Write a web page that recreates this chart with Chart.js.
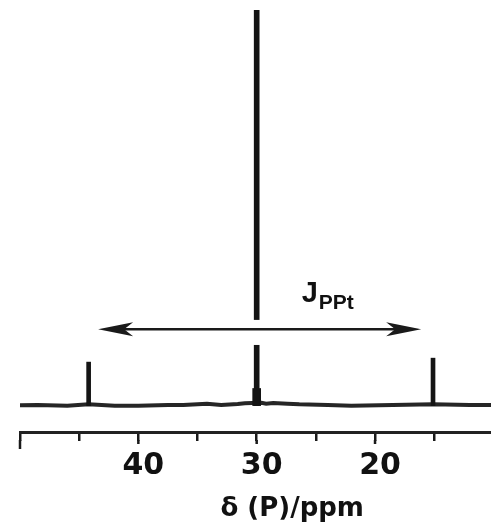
<!DOCTYPE html>
<html>
<head>
<meta charset="utf-8">
<script src="https://cdn.jsdelivr.net/npm/chart.js@4/dist/chart.umd.min.js"></script>
<style>
  html, body { margin: 0; padding: 0; background: #fff; }
  #wrap { width: 491px; height: 526px; }
</style>
</head>
<body>
<div id="wrap"><canvas id="c" width="491" height="526"></canvas></div>
<script>
// ---- data ----
// baseline trace
const baselinePpm = [51, 48.5, 46.0, 44.2, 42.0, 40.0, 37.5, 36.2, 34.2, 33.0, 31.6, 31.0, 30.4, 29.6, 29.2, 28.6, 27.4, 26.4, 24.0, 22.0, 18.5, 15.1, 12.0, 9.5];
const baselineIntensity = [0.0, 0.05, 0.0, 0.1, 0.0, 0.0, 0.05, 0.05, 0.15, 0.05, 0.12, 0.18, 0.2, 0.22, 0.15, 0.2, 0.15, 0.1, 0.05, 0.0, 0.05, 0.1, 0.05, 0.05];
// main resonance and 195Pt satellites
const mainPeakPpm = [30.0];
const mainPeakHeight = [30.0];
const mainFootHeight = [1.3];
const satellitePpm = [44.2, 15.1];
const satelliteHeight = [3.3, 3.6];
// axis
const tickValues = [50, 45, 40, 35, 30, 25, 20, 15];
const tickLabels = ['', '', '40', '', '30', '', '20', ''];
const axisTitle = 'δ (P)/ppm';
// coupling arrow
const couplingFrom = 43.4;
const couplingTo = 16.1;
const couplingLevel = 5.8;
const couplingLabel = ['J', 'PPt'];

const baselinePoints = baselinePpm.map((x, i) => ({ x: x, y: baselineIntensity[i] }));
const mainPoints = mainPeakPpm.map((x, i) => ({ x: x, y: [0, mainPeakHeight[i]] }));
const footPoints = mainPeakPpm.map((x, i) => ({ x: x, y: [0, mainFootHeight[i]] }));
const satPoints = satellitePpm.map((x, i) => ({ x: x, y: [0, satelliteHeight[i]] }));

const FONT = '"Liberation Sans", Arial, sans-serif';
const FONT2 = '"DejaVu Sans", sans-serif';

const arrowPlugin = {
  id: 'coupling',
  afterDatasetsDraw(chart) {
    const ctx = chart.ctx;
    const xs = chart.scales.x, ys = chart.scales.y;
    const y = ys.getPixelForValue(couplingLevel);
    const x1 = xs.getPixelForValue(couplingFrom);
    const x2 = xs.getPixelForValue(couplingTo);
    const xc = xs.getPixelForValue(mainPeakPpm[0]);
    ctx.save();
    ctx.fillStyle = '#fff';
    const gTop = ys.getPixelForValue(6.5), gBot = ys.getPixelForValue(4.6);
    ctx.fillRect(xc - 6, gTop, 12, gBot - gTop);
    ctx.strokeStyle = '#1a1a1a';
    ctx.lineWidth = 2.5;
    ctx.beginPath();
    ctx.moveTo(x1 + 10, y);
    ctx.lineTo(x2 - 10, y);
    ctx.stroke();
    ctx.fillStyle = '#1a1a1a';
    const head = (tip, dir) => {
      ctx.beginPath();
      ctx.moveTo(tip, y);
      ctx.lineTo(tip + dir * 35, y - 7);
      ctx.lineTo(tip + dir * 26, y);
      ctx.lineTo(tip + dir * 35, y + 7);
      ctx.closePath();
      ctx.fill();
    };
    head(x1, 1);
    head(x2, -1);
    const lx = xs.getPixelForValue(26.2);
    const ly = ys.getPixelForValue(7.85);
    ctx.fillStyle = '#111';
    ctx.textBaseline = 'alphabetic';
    ctx.textAlign = 'left';
    ctx.font = 'bold 29px ' + FONT;
    ctx.fillText(couplingLabel[0], lx, ly);
    const w = ctx.measureText(couplingLabel[0]).width;
    ctx.font = 'bold 21px ' + FONT;
    ctx.fillText(couplingLabel[1], lx + w + 1, ly + 7);
    ctx.restore();
  },
  afterDraw(chart) {
    const ctx = chart.ctx;
    const xs = chart.scales.x;
    const axisY = xs.top;
    ctx.save();
    // longer marks for the labelled ticks and the left end
    ctx.strokeStyle = '#1a1a1a';
    ctx.lineWidth = 2.5;
    tickValues.forEach((v, i) => {
      const extra = v === 50 ? 8 : (tickLabels[i] ? 3 : 0);
      if (!extra) return;
      const px = xs.getPixelForValue(v);
      ctx.beginPath();
      ctx.moveTo(px, axisY + 8);
      ctx.lineTo(px, axisY + 9 + extra);
      ctx.stroke();
    });
    // axis title
    ctx.fillStyle = '#111';
    ctx.font = 'bold 26px ' + FONT2;
    ctx.textAlign = 'center';
    ctx.textBaseline = 'alphabetic';
    ctx.fillText(axisTitle, xs.getPixelForValue(27.0), 516);
    ctx.restore();
  }
};

new Chart(document.getElementById('c'), {
  data: {
    datasets: [
      {
        type: 'line',
        data: baselinePoints,
        borderColor: '#262626',
        borderWidth: 4,
        pointRadius: 0,
        tension: 0,
        fill: false,
        order: 3
      },
      {
        type: 'bar',
        data: mainPoints,
        backgroundColor: '#141414',
        barThickness: 5,
        order: 1
      },
      {
        type: 'bar',
        data: footPoints,
        backgroundColor: '#141414',
        barThickness: 8,
        order: 1
      },
      {
        type: 'bar',
        data: satPoints,
        backgroundColor: '#141414',
        barThickness: 4,
        order: 1
      }
    ]
  },
  options: {
    responsive: false,
    animation: false,
    events: [],
    layout: { padding: { top: 10, left: 20, right: 0, bottom: 0 } },
    plugins: { legend: { display: false }, tooltip: { enabled: false } },
    datasets: { bar: { grouped: false } },
    scales: {
      x: {
        type: 'linear',
        reverse: true,
        offset: false,
        min: 10.2,
        max: 50,
        afterBuildTicks(scale) { scale.ticks = tickValues.map(v => ({ value: v })); },
        afterFit(scale) { scale.height = 94; },
        ticks: {
          autoSkip: false,
          maxRotation: 0,
          padding: 7,
          labelOffset: 5,
          color: '#111',
          font: { family: FONT2, size: 30, weight: 'bold' },
          callback: (v, i) => tickLabels[i]
        },
        grid: {
          offset: false,
          drawOnChartArea: false,
          drawTicks: true,
          tickLength: 9,
          color: '#1a1a1a',
          lineWidth: 2.5
        },
        border: { display: true, color: '#222', width: 3 },
        title: { display: false, text: axisTitle }
      },
      y: {
        display: false,
        min: -2,
        max: 30
      }
    }
  },
  plugins: [arrowPlugin]
});
</script>
</body>
</html>
